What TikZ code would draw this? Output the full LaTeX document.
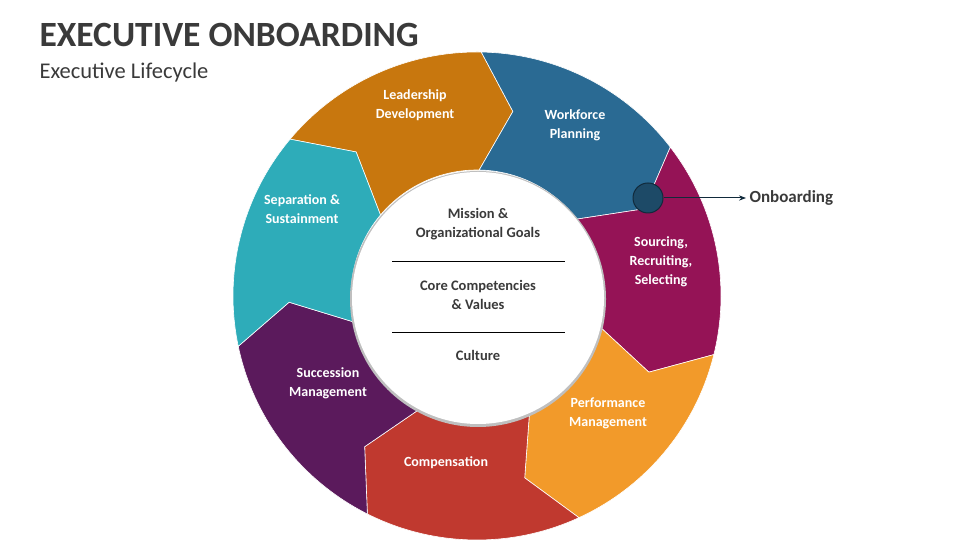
\documentclass[tikz,border=0pt]{standalone}
\usepackage{fontspec}
\setmainfont{Carlito}
\usetikzlibrary{arrows.meta}
\definecolor{cLead}{HTML}{C8770E}
\definecolor{cWork}{HTML}{2A6A93}
\definecolor{cSour}{HTML}{951356}
\definecolor{cPerf}{HTML}{F29A2A}
\definecolor{cComp}{HTML}{C0392F}
\definecolor{cSucc}{HTML}{5B1A5C}
\definecolor{cSepa}{HTML}{2EACB9}
\definecolor{ctitle}{HTML}{3A3A3A}
\begin{document}
\begin{tikzpicture}[x=1pt,y=1pt,
  seglabel/.style={text=white,align=center,font=\bfseries\fontsize{14}{19}\selectfont},
  innertxt/.style={text=ctitle,align=center,font=\bfseries\fontsize{14.5}{19}\selectfont}]
\useasboundingbox (0,0) rectangle (960,540);
\node[anchor=west,text=ctitle,font=\bfseries\fontsize{35.5}{40}\selectfont] (title) at (36,505) {EXECUTIVE ONBOARDING};
\node[anchor=west,text=ctitle,font=\fontsize{22.5}{26}\selectfont] (sub) at (36,467) {Executive Lifecycle};
\begin{scope}[shift={(477,244)}]
\def\ro{244}\def\ri{126}\def\rm{188}
\foreach \a/\b/\c in {140/89/cLead,89/37.6/cWork,37.6/-13.9/cSour,-13.9/-65.3/cPerf,-65.3/-116.7/cComp,-116.7/-168.1/cSucc,191.9/140/cSepa}{
  \fill[\c,draw=white,line width=0.6pt] (\a:\ro) arc[start angle=\a,end angle=\b,radius=\ro] -- (\b-10:\rm) -- (\b:\ri) arc[start angle=\b,end angle=\a,radius=\ri] -- (\a-10:\rm) -- cycle;
}
\fill[gray!50] (1,-3) circle (128);
\fill[white] (1,-2) circle (126);
\end{scope}
\node[seglabel] (lead) at (415,435) {Leadership\\Development};
\node[seglabel] (work) at (575,415) {Workforce\\Planning};
\node[seglabel] (sour) at (661,278) {Sourcing,\\Recruiting,\\Selecting};
\node[seglabel] (perf) at (608,127) {Performance\\Management};
\node[seglabel] (comp) at (446,77) {Compensation};
\node[seglabel] (succ) at (328,157) {Succession\\Management};
\node[seglabel] (sepa) at (302,331) {Separation \&\\Sustainment};
\node[innertxt] (mis) at (478,316) {Mission \&\\Organizational Goals};
\draw[black,line width=1pt] (392,278) -- (565,278);
\node[innertxt] (core) at (478,245) {Core Competencies\\\& Values};
\draw[black,line width=1pt] (392,207) -- (565,207);
\node[innertxt] (cult) at (478,185) {Culture};
\node[circle,fill=cWork!70!black,draw=cWork!40!black,line width=1pt,minimum size=30pt,inner sep=0pt] (mark) at (648,342) {};
\node[anchor=west,text=ctitle,font=\bfseries\fontsize{17}{19}\selectfont] (onb) at (746,342) {Onboarding};
\draw[-{Stealth[length=7pt]},cWork!40!black,line width=1pt] (mark.east) -- (onb.west);
\end{tikzpicture}
\end{document}
